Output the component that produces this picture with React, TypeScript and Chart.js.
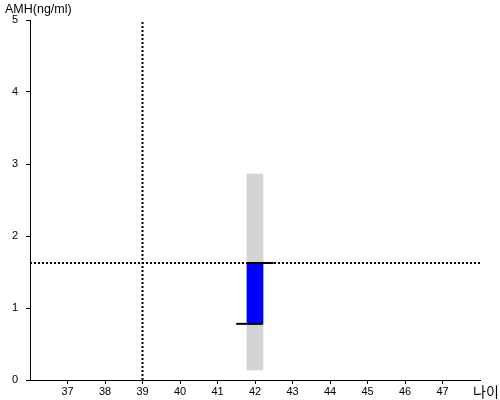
import React, { useEffect, useRef } from "react";
import { Chart, registerables } from "chart.js";

Chart.register(...registerables);

const xTickValues = [37, 38, 39, 40, 41, 42, 43, 44, 45, 46, 47];
const yTickValues = [0, 1, 2, 3, 4, 5];
const xRange = [36, 48];
const yRange = [0, 5];
const rangeBar = { x: 42, low: 0.14, high: 2.86 };
const valueBar = { x: 42, low: 0.78, high: 1.625 };
const upperMarker = [{ x: 41.8, y: 1.625 }, { x: 42.5, y: 1.625 }];
const lowerMarker = [{ x: 41.5, y: 0.78 }, { x: 42.2, y: 0.78 }];
const refAge = 39;
const refAmh = 1.625;
const yTitle = "AMH(ng/ml)";
const xTitle = "나이";

const labelPlugin = {
  id: "labels",
  afterDraw(chart: any) {
    const ctx = chart.ctx;
    ctx.save();
    ctx.fillStyle = "#000";
    ctx.font = "12.5px 'Liberation Sans', Arial, sans-serif";
    ctx.textBaseline = "middle";
    ctx.textAlign = "left";
    ctx.fillText(yTitle, 5, 10);
    ctx.font = "14px 'Noto Sans CJK KR', sans-serif";
    ctx.fillText(xTitle, 473, 392);
    ctx.restore();
  },
};

export default function App() {
  const ref = useRef<HTMLCanvasElement>(null);
  useEffect(() => {
    document.body.style.margin = "0";
    const chart = new Chart(ref.current!, {
      type: "bar",
      data: {
        datasets: [
          {
            type: "line",
            data: [{ x: xRange[0], y: refAmh }, { x: xRange[1], y: refAmh }],
            borderColor: "#000",
            borderWidth: 2,
            borderDash: [2, 2],
            pointRadius: 0,
            order: 0,
          } as any,
          {
            type: "line",
            data: [{ x: refAge, y: yRange[0] }, { x: refAge, y: yRange[1] }],
            borderColor: "#000",
            borderWidth: 2,
            borderDash: [2, 2],
            pointRadius: 0,
            order: 0,
          } as any,
          {
            type: "line",
            data: upperMarker,
            borderColor: "#000",
            borderWidth: 2,
            pointRadius: 0,
            order: -1,
          } as any,
          {
            type: "line",
            data: lowerMarker,
            borderColor: "#000",
            borderWidth: 2,
            pointRadius: 0,
            order: -1,
          } as any,
          {
            type: "bar",
            data: [{ x: valueBar.x, y: [valueBar.low, valueBar.high] }],
            backgroundColor: "#0000ff",
            barThickness: 16,
            grouped: false,
            order: 1,
          } as any,
          {
            type: "bar",
            data: [{ x: rangeBar.x, y: [rangeBar.low, rangeBar.high] }],
            backgroundColor: "#d3d3d3",
            barThickness: 16,
            grouped: false,
            order: 2,
          } as any,
        ],
      },
      options: {
        animation: false,
        responsive: false,
        layout: { padding: { top: 20, right: 20, left: 0, bottom: 0 } },
        plugins: { legend: { display: false }, tooltip: { enabled: false } },
        scales: {
          x: {
            type: "linear",
            min: xRange[0],
            max: xRange[1],
            offset: false,
            afterBuildTicks: (s: any) => {
              s.ticks = xTickValues.map((v) => ({ value: v }));
            },
            afterFit: (s: any) => {
              s.height = 20;
            },
            grid: { display: true, offset: false, drawOnChartArea: false, drawTicks: true, tickLength: 4, color: "#000" },
            border: { display: true, color: "#000", width: 1 },
            ticks: {
              color: "#000",
              padding: 1,
              font: { family: "'Liberation Sans', Arial", size: 11 },
              maxRotation: 0,
              autoSkip: false,
            },
          },
          y: {
            type: "linear",
            min: yRange[0],
            max: yRange[1],
            afterBuildTicks: (s: any) => {
              s.ticks = yTickValues.map((v) => ({ value: v }));
            },
            afterFit: (s: any) => {
              s.width = 30;
            },
            grid: { display: true, offset: false, drawOnChartArea: false, drawTicks: true, tickLength: 4, color: "#000" },
            border: { display: true, color: "#000", width: 1 },
            ticks: {
              color: "#000",
              padding: 8,
              font: { family: "'Liberation Sans', Arial", size: 11 },
            },
          },
        },
      },
      plugins: [labelPlugin],
    });
    return () => chart.destroy();
  }, []);
  return (
    <div style={{ position: "absolute", left: 0, top: 0, width: 500, height: 400 }}>
      <canvas ref={ref} width={500} height={400} />
    </div>
  );
}
